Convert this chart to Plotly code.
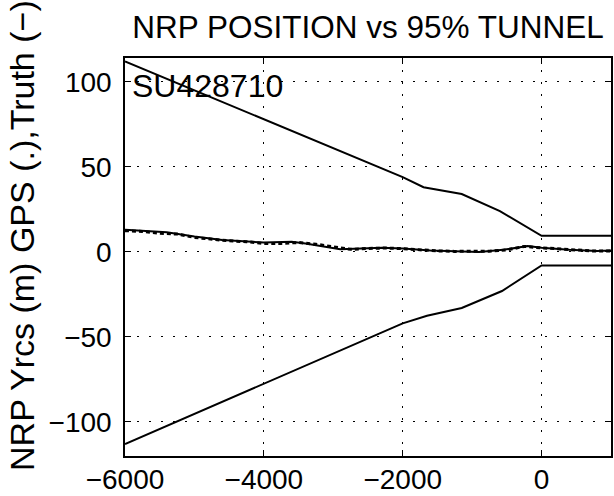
import plotly.graph_objects as go

# Data
upper_x = [-6000, -4000, -2000, -1700, -1150, -600, 0, 1000]
upper_y = [112, 78, 44, 38, 34, 24, 9.5, 9.5]
lower_x = [-6000, -2000, -1650, -1150, -570, 0, 1000]
lower_y = [-113, -42, -37.5, -33, -23, -8, -8]
truth_x = [-6000, -5400, -5000, -4600, -4000, -3600, -3400, -2900, -2300, -2000,
           -1600, -900, -550, -200, 0, 400, 800, 1000]
truth_y = [13, 11.5, 9, 7, 5.5, 6, 5, 1.5, 2.5, 2, 0.8, 0, 1.2, 3.5, 2.4, 1.2, 0.6, 0.8]
gps_x = [-6000, -5750, -5500, -5250, -5000, -4750, -4500, -4250, -4000, -3750,
         -3500, -3250, -3000, -2750, -2500, -2250, -2000, -1750, -1500, -1250,
         -1000, -750, -500, -250, 0, 250, 500, 750, 1000]
gps_y = [12.5, 12, 11, 10.5, 8.5, 7.5, 6.5, 6, 5, 5, 5.5, 4.5, 3, 1.5, 2, 2.3, 1.9,
         1.2, 0.6, 0.3, 0.2, 0.4, 1.2, 3.2, 2.4, 1.8, 1.2, 0.5, 0.6]
x_ticks = [-6000, -4000, -2000, 0]
x_tick_labels = ["\u22126000", "\u22124000", "\u22122000", "0"]
y_ticks = [-100, -50, 0, 50, 100]
y_tick_labels = ["\u2212100", "\u221250", "0", "50", "100"]

FONT = "Liberation Sans, Arial, Helvetica, sans-serif"

fig = go.Figure()
fig.add_trace(go.Scatter(x=upper_x, y=upper_y, mode="lines",
                         line=dict(color="black", width=2), name="Upper"))
fig.add_trace(go.Scatter(x=lower_x, y=lower_y, mode="lines",
                         line=dict(color="black", width=2), name="Lower"))
fig.add_trace(go.Scatter(x=gps_x, y=gps_y, mode="lines",
                         line=dict(color="black", width=3, dash="4px,3px"), name="GPS"))
fig.add_trace(go.Scatter(x=truth_x, y=truth_y, mode="lines",
                         line=dict(color="black", width=2), name="Truth"))

axis_common = dict(
    showline=True, linecolor="black", linewidth=1.5, mirror="ticks",
    ticks="inside", ticklen=6, tickcolor="black", tickwidth=1,
    showgrid=True, gridcolor="black", gridwidth=1, griddash="2px,10px",
    zeroline=False,
    tickfont=dict(family=FONT, size=28, color="black"),
)

fig.update_xaxes(range=[-6000, 1000], tickvals=x_ticks, ticktext=x_tick_labels,
                 ticklabelstandoff=-2, **axis_common)
fig.update_yaxes(range=[-120, 114], tickvals=y_ticks, ticktext=y_tick_labels,
                 ticklabelstandoff=6, **axis_common)

fig.update_layout(
    width=614, height=496,
    margin=dict(l=125, r=1, t=58, b=39),
    paper_bgcolor="white", plot_bgcolor="white",
    showlegend=False,
    title=dict(text="NRP POSITION vs 95% TUNNEL", x=368 / 614, xanchor="center",
               y=1 - 27 / 496, yanchor="middle",
               font=dict(family=FONT, size=31.5, color="black")),
    annotations=[
        dict(text="SU428710", xref="paper", yref="paper", x=(130 - 125) / 488,
             y=(457 - 86) / 399,
             xanchor="left", yanchor="middle", showarrow=False,
             font=dict(family=FONT, size=32, color="black")),
        dict(text="NRP Yrcs (m) GPS (.),Truth (\u2212)", xref="paper", yref="paper",
             x=-(125 - 21) / 488, y=(457 - 236) / 399, xanchor="center", yanchor="middle",
             textangle=-90, showarrow=False,
             font=dict(family=FONT, size=34, color="black")),
    ],
)

fig.write_html("out.html", config={"displayModeBar": False},
               post_script="document.body.style.margin='0';document.body.style.overflow='hidden';")
